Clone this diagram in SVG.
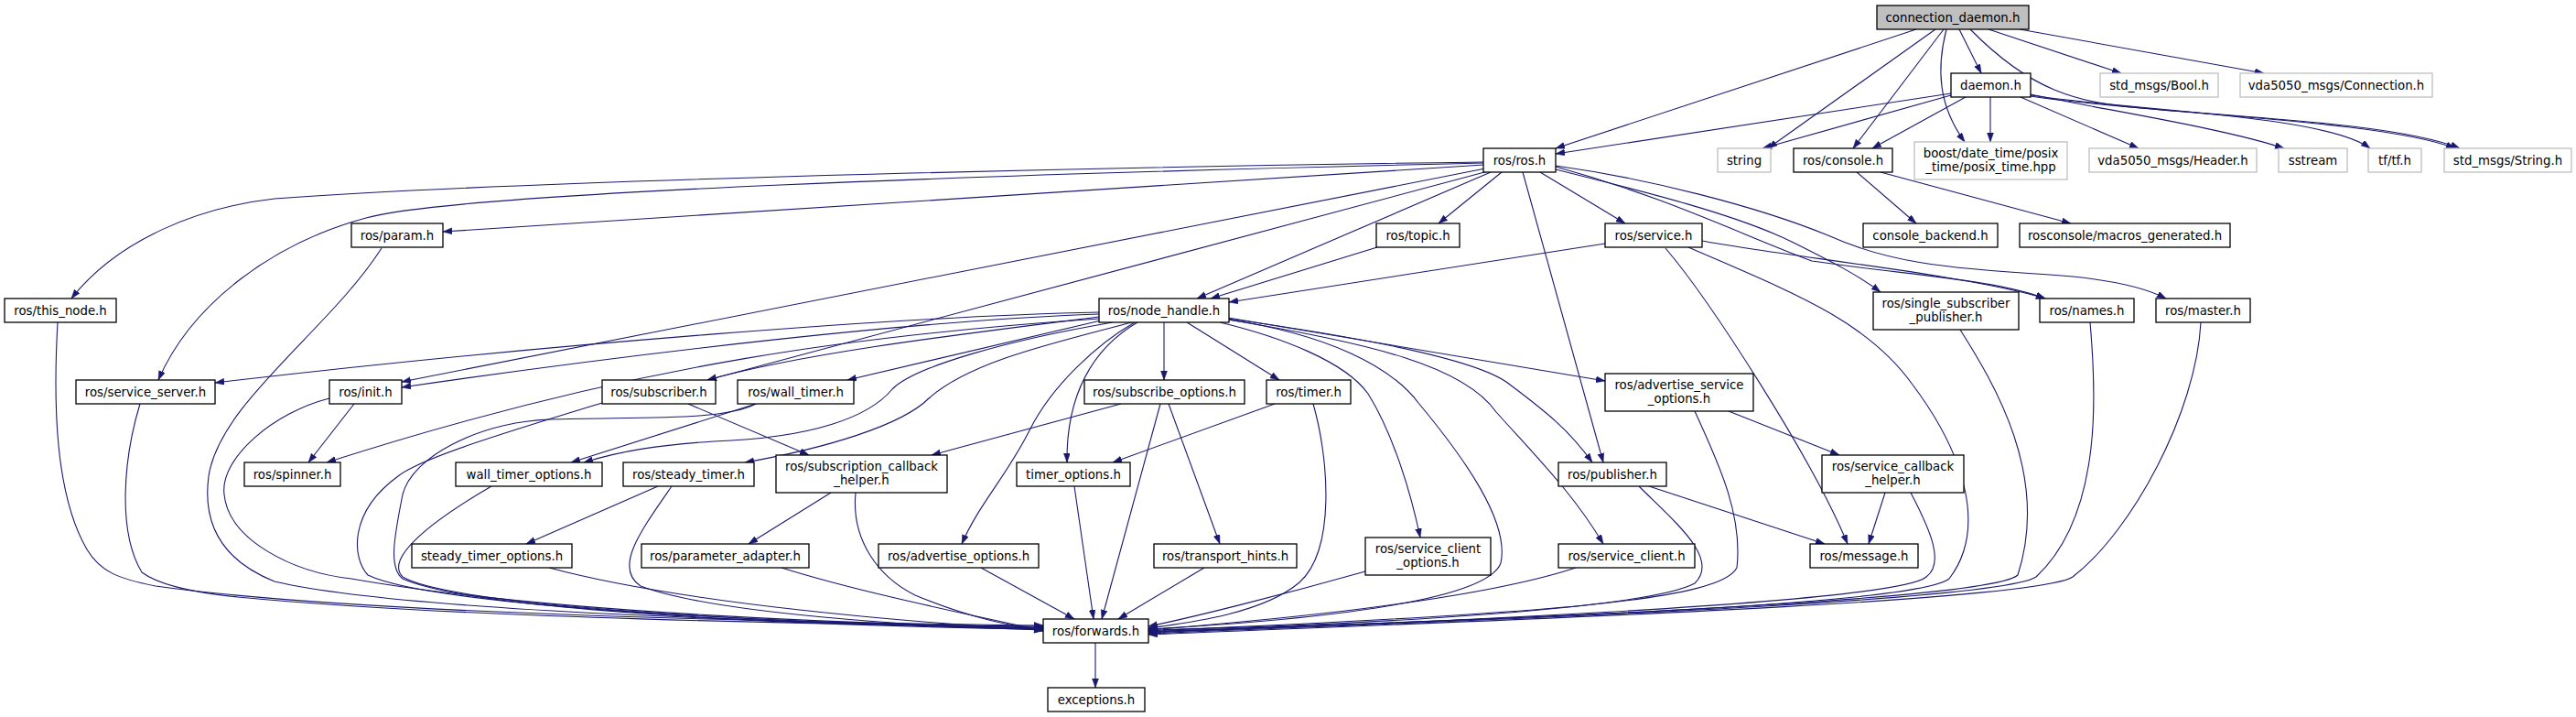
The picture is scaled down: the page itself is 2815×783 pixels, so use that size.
<svg xmlns="http://www.w3.org/2000/svg" width="2815" height="783" viewBox="0 0 2815 783">
<style>
.n rect{fill:#fff;stroke:#000;stroke-width:1.3}
.n.g rect{stroke:#bfbfbf}
.n.r rect{fill:#bfbfbf}
text{font-family:"DejaVu Sans","Liberation Sans",sans-serif;font-size:13.3px;fill:#000;text-anchor:middle}
#edges path{fill:none;stroke:#191970;stroke-width:1.1;marker-end:url(#ah)}
</style>
<defs>
<marker id="ah" markerUnits="userSpaceOnUse" markerWidth="11" markerHeight="8" refX="10" refY="3.5" orient="auto">
<path d="M0,0 L10,3.5 L0,7 z" fill="#191970" stroke="#191970" stroke-width="0.5"/>
</marker>
</defs>
<rect width="2815" height="783" fill="#fff"/>
<g id="edges">
<!-- connection_daemon.h -->
<path d="M2094,32 L1700,162"/>
<path d="M2115,32 L1932,162"/>
<path d="M2124,32 L2025,162"/>
<path d="M2127,32 C2116,75 2118,115 2147,155"/>
<path d="M2141,32 L2165,80"/>
<path d="M2153,32 C2220,100 2270,112 2340,118 C2450,128 2620,135 2688,162"/>
<path d="M2173,32 L2318,80"/>
<path d="M2207,32 L2474,80"/>
<!-- daemon.h -->
<path d="M2132,102 L1700,168"/>
<path d="M2132,104 L1926,162"/>
<path d="M2148,106 L2046,162"/>
<path d="M2175,106 L2175,155"/>
<path d="M2208,106 L2337,162"/>
<path d="M2219,103 C2300,120 2430,140 2496,162"/>
<path d="M2219,104 C2320,120 2540,125 2590,162"/>
<path d="M2219,105 C2350,125 2600,130 2683,162"/>
<!-- console -->
<path d="M2029,188 L2094,244"/>
<path d="M2055,188 L2263,244"/>
<!-- ros.h -->
<path d="M1621,177 C1300,181 600,195 300,217 C220,226 130,260 78,326"/>
<path d="M1621,178 C1100,190 500,210 400,238 C300,265 210,330 173,415"/>
<path d="M1621,180 L484,253"/>
<path d="M1623,184 L439,417"/>
<path d="M1626,187 L773,415"/>
<path d="M1629,188 L1308,326"/>
<path d="M1641,188 L1572,244"/>
<path d="M1683,188 L1776,244"/>
<path d="M1664,188 L1752,505"/>
<path d="M1700,185 C1800,210 1900,235 1960,265 C2000,285 2030,300 2055,319"/>
<path d="M1700,182 C1820,215 1900,255 1980,285 C2080,300 2180,305 2235,326"/>
<path d="M1700,181 C1800,195 1920,225 2000,258 C2060,285 2120,293 2240,300 C2300,304 2340,312 2367,326"/>
<!-- topic, service -->
<path d="M1505,270 L1323,326"/>
<path d="M1754,266 L1343,330"/>
<path d="M1860,263 C1950,280 2150,300 2235,326"/>
<path d="M1820,271 C1870,330 1980,500 2019,594"/>
<path d="M1845,270 C1960,320 2040,350 2090,420 C2150,500 2170,580 2130,632 C2090,665 1500,680 1255,690"/>
<!-- ssp, names, master -->
<path d="M2142,360 C2180,420 2240,520 2205,628 C2170,660 1500,680 1255,691"/>
<path d="M2284,352 C2290,420 2300,560 2225,630 C2180,660 1500,681 1255,692"/>
<path d="M2405,352 C2400,450 2330,580 2265,630 C2220,660 1500,682 1255,693"/>
<!-- param, this_node, service_server -->
<path d="M417,271 C360,360 240,440 228,520 C220,580 250,615 300,635 C450,670 900,680 1140,686"/>
<path d="M63,352 C58,440 60,540 95,600 C110,625 130,632 170,640 C400,672 900,680 1140,683"/>
<path d="M153,441 C135,500 128,580 155,625 C175,640 220,648 260,652 C500,675 900,682 1140,684"/>
<!-- node_handle left -->
<path d="M1201,341 C1000,345 600,375 235,418"/>
<path d="M1201,343 C1000,350 700,385 439,423"/>
<path d="M1201,346 C1050,365 880,385 773,415"/>
<path d="M1203,350 L926,415"/>
<path d="M1201,348 C950,365 700,395 357,505"/>
<path d="M1216,352 C1100,372 1000,400 975,425 C950,455 890,478 780,482 C720,486 680,492 638,505"/>
<path d="M1237,352 C1150,375 1060,395 1015,435 C985,465 900,490 814,505"/>
<path d="M1240,352 C1200,375 1150,420 1125,470 C1100,520 1070,550 1051,594"/>
<path d="M1243,352 C1195,380 1165,430 1166,505"/>
<!-- node_handle down/right -->
<path d="M1272,352 L1272,415"/>
<path d="M1297,352 L1398,415"/>
<path d="M1333,352 C1400,368 1470,395 1495,430 C1520,470 1540,530 1552,587"/>
<path d="M1342,349 C1450,365 1520,400 1550,440 C1600,500 1650,570 1640,615 C1625,655 1450,676 1255,687"/>
<path d="M1342,349 C1500,375 1600,400 1635,450 C1680,500 1720,540 1752,594"/>
<path d="M1342,348 C1500,370 1620,395 1650,420 C1690,450 1715,470 1740,505"/>
<path d="M1342,347 L1754,416"/>
<!-- init, subscriber, wall_timer -->
<path d="M387,441 L337,505"/>
<path d="M360,435 C300,450 240,500 245,540 C250,590 320,625 384,632 C600,670 950,682 1140,685"/>
<path d="M658,440 C560,470 460,500 435,520 C380,560 385,610 402,628 C480,665 900,682 1140,686"/>
<path d="M752,441 L884,497"/>
<path d="M826,441 L624,505"/>
<path d="M826,441 C790,460 700,455 600,458 C520,462 450,500 440,540 C430,590 425,620 440,632 C520,668 900,684 1140,687"/>
<path d="M537,531 C470,570 420,610 440,630 C500,665 900,682 1140,687"/>
<!-- steady timer, subscription callback helper -->
<path d="M719,531 L575,594"/>
<path d="M734,531 C700,580 670,620 700,640 C780,670 1000,684 1140,688"/>
<path d="M600,620 C750,660 1000,680 1140,688"/>
<path d="M854,620 C950,650 1080,675 1140,689"/>
<path d="M908,538 L818,594"/>
<path d="M935,538 C930,590 960,630 1000,650 C1060,675 1100,682 1140,689"/>
<!-- subscribe options, timer -->
<path d="M1225,441 L1018,497"/>
<path d="M1268,441 L1204,676"/>
<path d="M1277,441 L1333,594"/>
<path d="M1316,620 L1222,676"/>
<path d="M1393,441 L1216,505"/>
<path d="M1435,441 C1452,500 1460,600 1420,636 C1380,670 1300,680 1255,686"/>
<path d="M1174,531 L1195,676"/>
<path d="M1072,620 L1174,676"/>
<!-- right side -->
<path d="M1492,624 C1400,650 1300,675 1255,684"/>
<path d="M1722,620 C1600,660 1350,680 1255,688"/>
<path d="M1791,531 C1830,570 1880,610 1852,637 C1800,665 1500,682 1255,688"/>
<path d="M1802,531 L1994,594"/>
<path d="M1852,449 C1875,500 1905,560 1898,620 C1880,655 1700,670 1255,689"/>
<path d="M1889,449 L2010,497"/>
<path d="M2060,538 L2042,594"/>
<path d="M2088,538 C2110,580 2125,615 2105,630 C2070,660 1500,682 1255,690"/>
<!-- forwards -->
<path d="M1197,702 L1197,751"/>
</g>
<g id="n_connection_daemon" class="n r"><rect x="2051" y="6" width="166" height="26"/><text x="2134" y="23.5">connection_daemon.h</text></g>
<g id="n_daemon" class="n"><rect x="2132" y="80" width="87" height="26"/><text x="2175.5" y="97.5">daemon.h</text></g>
<g id="n_bool" class="n g"><rect x="2295" y="80" width="129" height="26"/><text x="2359.5" y="97.5">std_msgs/Bool.h</text></g>
<g id="n_connection" class="n g"><rect x="2448" y="80" width="210" height="26"/><text x="2553" y="97.5">vda5050_msgs/Connection.h</text></g>
<g id="n_ros" class="n"><rect x="1621" y="162" width="79" height="26"/><text x="1660.5" y="179.5">ros/ros.h</text></g>
<g id="n_string" class="n g"><rect x="1877" y="162" width="58" height="26"/><text x="1906" y="179.5">string</text></g>
<g id="n_console" class="n"><rect x="1960" y="162" width="108" height="26"/><text x="2014" y="179.5">ros/console.h</text></g>
<g id="n_boost" class="n g"><rect x="2092" y="155" width="167" height="41"/><text x="2175.5" y="171.5">boost/date_time/posix</text><text x="2175.5" y="186.5">_time/posix_time.hpp</text></g>
<g id="n_header" class="n g"><rect x="2283" y="162" width="183" height="26"/><text x="2374.5" y="179.5">vda5050_msgs/Header.h</text></g>
<g id="n_sstream" class="n g"><rect x="2490" y="162" width="75" height="26"/><text x="2527.5" y="179.5">sstream</text></g>
<g id="n_tf" class="n g"><rect x="2588" y="162" width="58" height="26"/><text x="2617" y="179.5">tf/tf.h</text></g>
<g id="n_stringmsg" class="n g"><rect x="2671" y="162" width="139" height="26"/><text x="2740.5" y="179.5">std_msgs/String.h</text></g>
<g id="n_param" class="n"><rect x="384" y="244" width="100" height="26"/><text x="434" y="261.5">ros/param.h</text></g>
<g id="n_topic" class="n"><rect x="1504" y="244" width="91" height="26"/><text x="1549.5" y="261.5">ros/topic.h</text></g>
<g id="n_service" class="n"><rect x="1754" y="244" width="106" height="26"/><text x="1807" y="261.5">ros/service.h</text></g>
<g id="n_console_backend" class="n"><rect x="2036" y="244" width="147" height="26"/><text x="2109.5" y="261.5">console_backend.h</text></g>
<g id="n_macros" class="n"><rect x="2207" y="244" width="230" height="26"/><text x="2322" y="261.5">rosconsole/macros_generated.h</text></g>
<g id="n_this_node" class="n"><rect x="5" y="326" width="122" height="26"/><text x="66" y="343.5">ros/this_node.h</text></g>
<g id="n_node_handle" class="n"><rect x="1201" y="326" width="142" height="26"/><text x="1272" y="343.5">ros/node_handle.h</text></g>
<g id="n_ssp" class="n"><rect x="2047" y="319" width="159" height="41"/><text x="2126.5" y="335.5">ros/single_subscriber</text><text x="2126.5" y="350.5">_publisher.h</text></g>
<g id="n_names" class="n"><rect x="2229" y="326" width="103" height="26"/><text x="2280.5" y="343.5">ros/names.h</text></g>
<g id="n_master" class="n"><rect x="2356" y="326" width="103" height="26"/><text x="2407.5" y="343.5">ros/master.h</text></g>
<g id="n_service_server" class="n"><rect x="83" y="415" width="152" height="26"/><text x="159" y="432.5">ros/service_server.h</text></g>
<g id="n_init" class="n"><rect x="360" y="415" width="79" height="26"/><text x="399.5" y="432.5">ros/init.h</text></g>
<g id="n_subscriber" class="n"><rect x="658" y="415" width="124" height="26"/><text x="720" y="432.5">ros/subscriber.h</text></g>
<g id="n_wall_timer" class="n"><rect x="806" y="415" width="127" height="26"/><text x="869.5" y="432.5">ros/wall_timer.h</text></g>
<g id="n_subscribe_options" class="n"><rect x="1185" y="415" width="175" height="26"/><text x="1272.5" y="432.5">ros/subscribe_options.h</text></g>
<g id="n_timer" class="n"><rect x="1384" y="415" width="92" height="26"/><text x="1430" y="432.5">ros/timer.h</text></g>
<g id="n_aso" class="n"><rect x="1754" y="408" width="162" height="41"/><text x="1835" y="424.5">ros/advertise_service</text><text x="1835" y="439.5">_options.h</text></g>
<g id="n_spinner" class="n"><rect x="267" y="505" width="105" height="26"/><text x="319.5" y="522.5">ros/spinner.h</text></g>
<g id="n_wto" class="n"><rect x="498" y="505" width="160" height="26"/><text x="578" y="522.5">wall_timer_options.h</text></g>
<g id="n_steady_timer" class="n"><rect x="681" y="505" width="143" height="26"/><text x="752.5" y="522.5">ros/steady_timer.h</text></g>
<g id="n_subcb" class="n"><rect x="848" y="497" width="187" height="41"/><text x="941.5" y="513.5">ros/subscription_callback</text><text x="941.5" y="528.5">_helper.h</text></g>
<g id="n_timer_options" class="n"><rect x="1111" y="505" width="124" height="26"/><text x="1173" y="522.5">timer_options.h</text></g>
<g id="n_publisher" class="n"><rect x="1703" y="505" width="118" height="26"/><text x="1762" y="522.5">ros/publisher.h</text></g>
<g id="n_srvcb" class="n"><rect x="1991" y="497" width="155" height="41"/><text x="2068.5" y="513.5">ros/service_callback</text><text x="2068.5" y="528.5">_helper.h</text></g>
<g id="n_sto" class="n"><rect x="450" y="594" width="175" height="26"/><text x="537.5" y="611.5">steady_timer_options.h</text></g>
<g id="n_param_adapter" class="n"><rect x="701" y="594" width="183" height="26"/><text x="792.5" y="611.5">ros/parameter_adapter.h</text></g>
<g id="n_adv_options" class="n"><rect x="960" y="594" width="175" height="26"/><text x="1047.5" y="611.5">ros/advertise_options.h</text></g>
<g id="n_transport" class="n"><rect x="1261" y="594" width="156" height="26"/><text x="1339" y="611.5">ros/transport_hints.h</text></g>
<g id="n_sco" class="n"><rect x="1492" y="587" width="137" height="41"/><text x="1560.5" y="603.5">ros/service_client</text><text x="1560.5" y="618.5">_options.h</text></g>
<g id="n_service_client" class="n"><rect x="1703" y="594" width="149" height="26"/><text x="1777.5" y="611.5">ros/service_client.h</text></g>
<g id="n_message" class="n"><rect x="1978" y="594" width="118" height="26"/><text x="2037" y="611.5">ros/message.h</text></g>
<g id="n_forwards" class="n"><rect x="1140" y="676" width="115" height="26"/><text x="1197.5" y="693.5">ros/forwards.h</text></g>
<g id="n_exceptions" class="n"><rect x="1145" y="751" width="106" height="26"/><text x="1198" y="768.5">exceptions.h</text></g>
</svg>
